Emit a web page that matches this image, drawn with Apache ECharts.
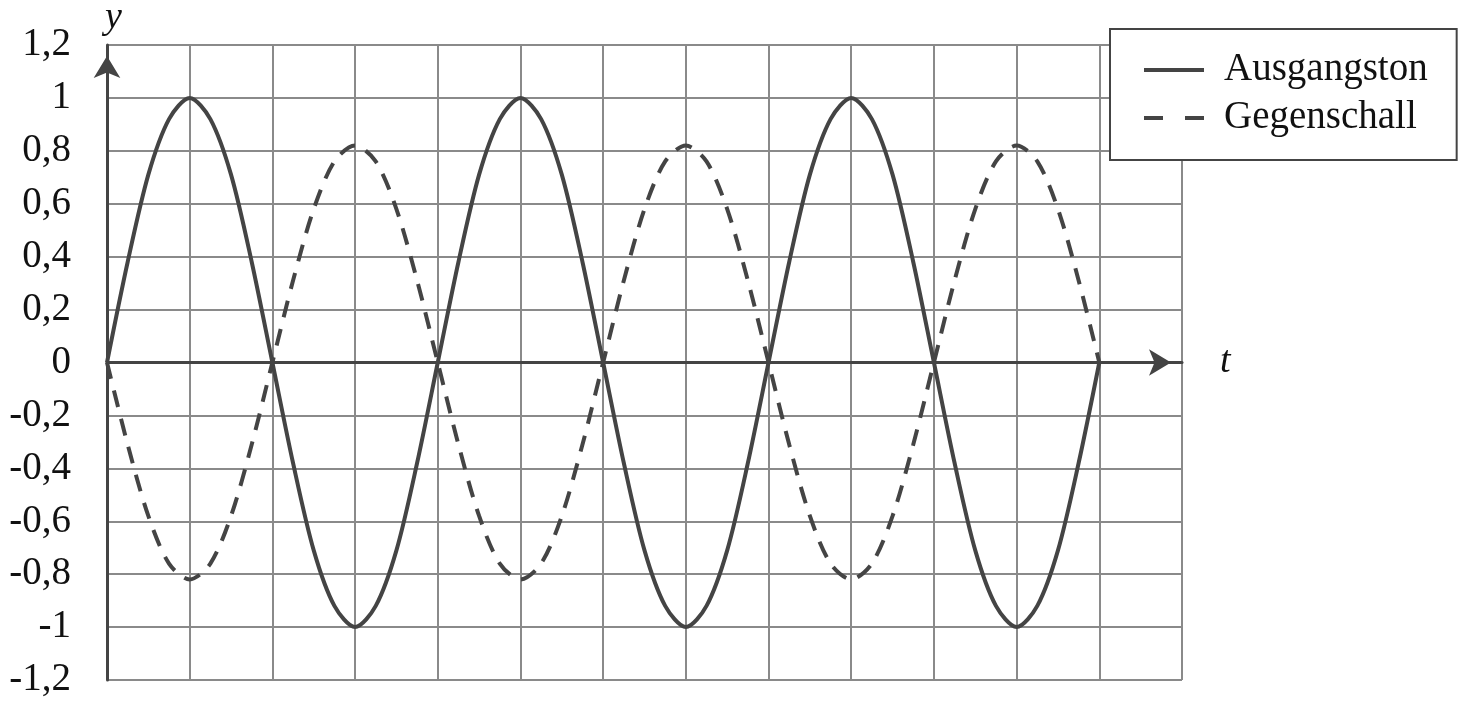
<!DOCTYPE html>
<html>
<head>
<meta charset="utf-8">
<script src="https://cdn.jsdelivr.net/npm/echarts@6/dist/echarts.min.js"></script>
<style>
html,body{margin:0;padding:0;background:#fff;}
#chart{width:1472px;height:704px;}
</style>
</head>
<body>
<div id="chart"></div>
<script>
const tValues = [0,0.25,0.5,0.75,1,1.25,1.5,1.75,2,2.25,2.5,2.75,3,3.25,3.5,3.75,4,4.25,4.5,4.75,5,5.25,5.5,5.75,6,6.25,6.5,6.75,7,7.25,7.5,7.75,8,8.25,8.5,8.75,9,9.25,9.5,9.75,10,10.25,10.5,10.75,11,11.25,11.5,11.75,12];
const ausgangston = [0,0.38,0.71,0.92,1,0.92,0.71,0.38,0,-0.38,-0.71,-0.92,-1,-0.92,-0.71,-0.38,
  0,0.38,0.71,0.92,1,0.92,0.71,0.38,0,-0.38,-0.71,-0.92,-1,-0.92,-0.71,-0.38,
  0,0.38,0.71,0.92,1,0.92,0.71,0.38,0,-0.38,-0.71,-0.92,-1,-0.92,-0.71,-0.38,0];
const gegenschall = [0,-0.31,-0.58,-0.76,-0.82,-0.76,-0.58,-0.31,0,0.31,0.58,0.76,0.82,0.76,0.58,0.31,
  0,-0.31,-0.58,-0.76,-0.82,-0.76,-0.58,-0.31,0,0.31,0.58,0.76,0.82,0.76,0.58,0.31,
  0,-0.31,-0.58,-0.76,-0.82,-0.76,-0.58,-0.31,0,0.31,0.58,0.76,0.82,0.76,0.58,0.31,0];
const yTickValues = [-1.2,-1,-0.8,-0.6,-0.4,-0.2,0,0.2,0.4,0.6,0.8,1,1.2];
const yTickLabels = ['-1,2','-1','-0,8','-0,6','-0,4','-0,2','0','0,2','0,4','0,6','0,8','1','1,2'];
const seriesNames = ['Ausgangston','Gegenschall'];

const FONT = "'Liberation Serif','Times New Roman',serif";
const INK = '#444';
const GRID = '#8a8a8a';

function pairs(xs, ys){ return xs.map((x,i)=>[x, ys[i]]); }
function yLabel(v){
  let best = 0;
  yTickValues.forEach((t,i)=>{ if (Math.abs(t - v) < Math.abs(yTickValues[best] - v)) best = i; });
  return yTickLabels[best];
}

const chart = echarts.init(document.getElementById('chart'), null, {renderer:'canvas'});
chart.setOption({
  animation:false,
  backgroundColor:'#fff',
  grid:{left:107, right:290, top:45, bottom:24, containLabel:false, outerBoundsMode:'none'},
  xAxis:{
    type:'value', min:0, max:13, interval:1,
    name:'t', nameLocation:'end', nameGap:38,
    nameTextStyle:{fontFamily:FONT, fontStyle:'italic', fontSize:38, color:'#111', verticalAlign:'middle', padding:[10,0,0,0]},
    axisLine:{onZero:true, lineStyle:{color:INK, width:3}, symbol:['none','arrow'], symbolSize:[20,22], symbolOffset:[0,-11]},
    axisTick:{show:false},
    axisLabel:{show:false},
    splitLine:{show:true, lineStyle:{color:GRID, width:2}}
  },
  yAxis:{
    type:'value', min:-1.2, max:1.2, interval:0.2,
    name:'y', nameLocation:'end', nameGap:8,
    nameTextStyle:{fontFamily:FONT, fontStyle:'italic', fontSize:38, color:'#111', align:'left', padding:[0,0,0,-2]},
    axisLine:{show:true, onZero:false, lineStyle:{color:INK, width:3}, symbol:['none','arrow'], symbolSize:[20,22], symbolOffset:[0,-11]},
    axisTick:{show:false},
    axisLabel:{fontFamily:FONT, fontSize:39, color:'#111', margin:36, formatter:yLabel},
    splitLine:{show:true, lineStyle:{color:GRID, width:2}}
  },
  legend:{
    left:1110, top:29, orient:'vertical',
    backgroundColor:'#fff', borderColor:INK, borderWidth:2, borderRadius:0,
    padding:[21,29,22,32],
    itemWidth:60, itemHeight:14, itemGap:8,
    lineStyle:{width:4},
    itemStyle:{opacity:0},
    textStyle:{fontFamily:FONT, fontSize:39, color:'#111', lineHeight:40, padding:[0,0,0,15]},
    data:[
      {name:seriesNames[0]},
      {name:seriesNames[1], lineStyle:{type:[19,22], width:4}}
    ]
  },
  series:[
    {name:seriesNames[0], type:'line', data:pairs(tValues, ausgangston), smooth:0.3, showSymbol:false, symbol:'none',
     lineStyle:{color:INK, width:4}, itemStyle:{color:INK}, z:3},
    {name:seriesNames[1], type:'line', data:pairs(tValues, gegenschall), smooth:0.3, showSymbol:false, symbol:'none',
     lineStyle:{color:INK, width:4, type:[17,12]}, itemStyle:{color:INK}, z:3}
  ]
});
</script>
</body>
</html>
